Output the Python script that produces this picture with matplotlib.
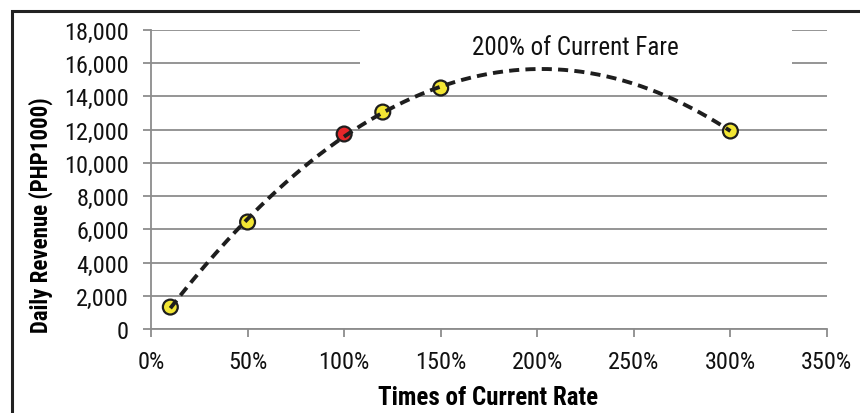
import matplotlib.pyplot as plt
import matplotlib.patches as mpatches
from matplotlib.ticker import FuncFormatter
import numpy as np

# fare multiplier (as fraction of current rate) and daily revenue (PHP1000)
rate = [0.10, 0.50, 1.00, 1.20, 1.50, 3.00]
revenue = [1320, 6440, 11740, 13060, 14510, 11920]
current_idx = 2  # the red point, current fare

plt.rcParams['font.family'] = ['Roboto Condensed', 'DejaVu Sans']

fig = plt.figure(figsize=(8.6, 4.14), dpi=100)
ax = fig.add_axes([0.1756, 0.2029, 0.786, 0.7222])

# outer frame of the chart area
fig.patches.append(mpatches.Rectangle((11.5 / 860, -0.2), 1.2, 1.2 - 11.5 / 414, transform=fig.transFigure,
                                      fill=False, edgecolor='#222222', linewidth=2.2))

grey = '#8c8c8c'

# trend line (2nd order polynomial, as in the spreadsheet)
coef = np.polyfit(rate, revenue, 2)
xs = np.linspace(min(rate), max(rate), 200)
ax.plot(xs, np.polyval(coef, xs), ls=(0, (2.6, 1.6)), lw=2.8, color='#1e1e1e', zorder=5)

colors = ['#f2e634'] * len(rate)
colors[current_idx] = '#e8262a'
ax.scatter(rate, revenue, s=115, c=colors, edgecolors='#1e1e1e', linewidths=1.6, zorder=4)

ax.set_xlim(0, 3.5)
ax.set_ylim(0, 18000)
ax.set_xticks(np.arange(0, 3.51, 0.5))
ax.set_yticks(np.arange(0, 18001, 2000))
ax.xaxis.set_major_formatter(FuncFormatter(lambda v, p: f'{v * 100:.0f}%'))
ax.yaxis.set_major_formatter(FuncFormatter(lambda v, p: f'{v:,.0f}'))
ax.tick_params(axis='both', labelsize=17.5, colors=grey, labelcolor='#111111', width=1.3, length=5.8)
ax.tick_params(axis='x', pad=9)
ax.tick_params(axis='y', pad=10)

ax.grid(axis='y', color=grey, lw=1.3)
ax.set_axisbelow(True)
for s in ['top', 'right']:
    ax.spines[s].set_visible(False)
for s in ['left', 'bottom']:
    ax.spines[s].set_color(grey)
    ax.spines[s].set_linewidth(1.3)

# white label box covering the top gridlines
box_x0 = (360 - 151) / 676 * 3.5
box_x1 = (792 - 151) / 676 * 3.5
ax.add_patch(mpatches.Rectangle((box_x0, 15400), box_x1 - box_x0, 4000, facecolor='white',
                                edgecolor='none', zorder=2, clip_on=False))
ax.text((575 - 151) / 676 * 3.5, 17000, '200% of Current Fare', fontsize=18, color='#111111',
        ha='center', va='center', zorder=3)

fig.text(41 / 860, 1 - 215 / 414, 'Daily Revenue (PHP1000)', rotation=90, fontsize=16.5,
         fontweight='bold', ha='center', va='center')
fig.text(488 / 860, 1 - 398 / 414, 'Times of Current Rate', fontsize=18,
         fontweight='bold', ha='center', va='center')

fig.savefig('out.png', dpi=100)
